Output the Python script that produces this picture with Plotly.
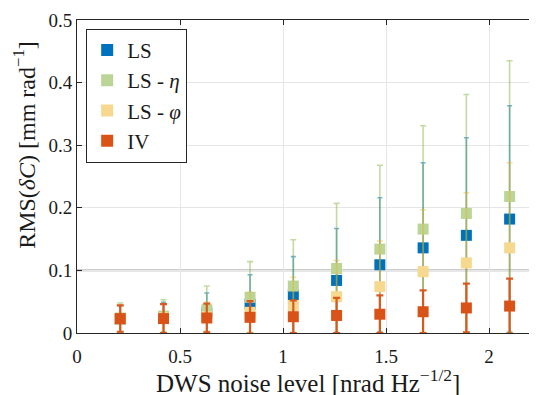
import plotly.graph_objects as go

# ---- data ----
noise = [0.21, 0.42, 0.63, 0.84, 1.05, 1.26, 1.47, 1.68, 1.89, 2.10]

ls_mean = [0.022, 0.025, 0.032, 0.046, 0.061, 0.084, 0.109, 0.136, 0.156, 0.182]
ls_err = [0.022, 0.024, 0.032, 0.047, 0.061, 0.083, 0.107, 0.136, 0.156, 0.181]

eta_mean = [0.024, 0.027, 0.037, 0.057, 0.075, 0.103, 0.134, 0.166, 0.191, 0.218]
eta_err = [0.024, 0.026, 0.038, 0.057, 0.074, 0.104, 0.134, 0.165, 0.190, 0.217]

phi_mean = [0.022, 0.024, 0.026, 0.033, 0.044, 0.058, 0.074, 0.098, 0.112, 0.136]
phi_err = [0.022, 0.023, 0.023, 0.032, 0.045, 0.058, 0.073, 0.099, 0.112, 0.136]

iv_mean = [0.023, 0.023, 0.024, 0.025, 0.026, 0.028, 0.030, 0.034, 0.040, 0.043]
iv_err = [0.021, 0.023, 0.023, 0.026, 0.026, 0.028, 0.030, 0.034, 0.039, 0.044]

threshold = 0.1

x_ticks = [0, 0.5, 1, 1.5, 2]
x_ticklabels = ["0", "0.5", "1", "1.5", "2"]
y_ticks = [0, 0.1, 0.2, 0.3, 0.4, 0.5]
y_ticklabels = ["0", "0.1", "0.2", "0.3", "0.4", "0.5"]

names = ["LS", "LS - <i>η</i>", "LS - <i>φ</i>", "IV"]
means = [ls_mean, eta_mean, phi_mean, iv_mean]
errs = [ls_err, eta_err, phi_err, iv_err]
marker_colors = ["#0072BD", "#BBD597", "#F6D88F", "#D95319"]
bar_colors = ["rgba(0,114,189,0.55)", "rgba(119,172,48,0.45)",
              "rgba(237,177,32,0.45)", "rgba(217,83,25,0.95)"]
bar_thick = [1.6, 1.6, 1.6, 2.2]
cap_w = [2.5, 3, 3, 3.5]

FONT = "Liberation Serif"
TXT = "#1a1a1a"

fig = go.Figure()
for n, m, e, mc, bc, th, cw in zip(names, means, errs, marker_colors,
                                   bar_colors, bar_thick, cap_w):
    fig.add_trace(go.Scatter(
        x=noise, y=m, mode="markers", name=n,
        marker=dict(symbol="square", size=11, color=mc, line=dict(width=0)),
        error_y=dict(type="data", array=e, symmetric=True, color=bc,
                     thickness=th, width=cw),
        cliponaxis=True,
    ))

fig.add_shape(type="line", xref="paper", x0=0, x1=1, yref="y",
              y0=threshold, y1=threshold,
              line=dict(color="#9a9a9a", width=1.6), layer="below")

axis_common = dict(
    showline=True, linecolor="#262626", linewidth=1, mirror="ticks",
    ticks="inside", ticklen=5, tickcolor="#262626", tickwidth=1,
    showgrid=True, gridcolor="#e6e6e6", gridwidth=1, zeroline=False,
    tickfont=dict(family=FONT, size=19, color=TXT),
    automargin=False,
)

fig.update_xaxes(range=[0, 2.228], tickvals=x_ticks, ticktext=x_ticklabels,
                 ticklabelstandoff=6, **axis_common)
fig.update_yaxes(range=[0, 0.5], tickvals=y_ticks, ticktext=y_ticklabels,
                 **axis_common)

# axis titles as annotations for exact placement
fig.add_annotation(text="DWS noise level [nrad Hz<sup>−1/2</sup>]",
                   xref="paper", yref="paper", x=0.503, y=-0.152,
                   xanchor="center", yanchor="middle", showarrow=False,
                   font=dict(family=FONT, size=25, color=TXT))
fig.add_annotation(text="RMS(<i>δC</i>) [mm rad<sup>−1</sup>]",
                   xref="paper", yref="paper", x=-0.114, y=0.60,
                   xanchor="center", yanchor="middle", showarrow=False,
                   textangle=-90,
                   font=dict(family=FONT, size=24, color=TXT))

# the page body has an 8px default margin; size the figure to fit the window
fig.update_layout(
    width=529, height=387,
    margin=dict(l=69, r=1, t=12, b=62),
    paper_bgcolor="white", plot_bgcolor="white",
    showlegend=True,
    legend=dict(x=0.02, y=0.972, xanchor="left", yanchor="top",
                bgcolor="white", bordercolor="#262626", borderwidth=1,
                font=dict(family=FONT, size=21, color=TXT),
                tracegroupgap=0, itemsizing="constant"),
)

fig.write_html("out.html")
